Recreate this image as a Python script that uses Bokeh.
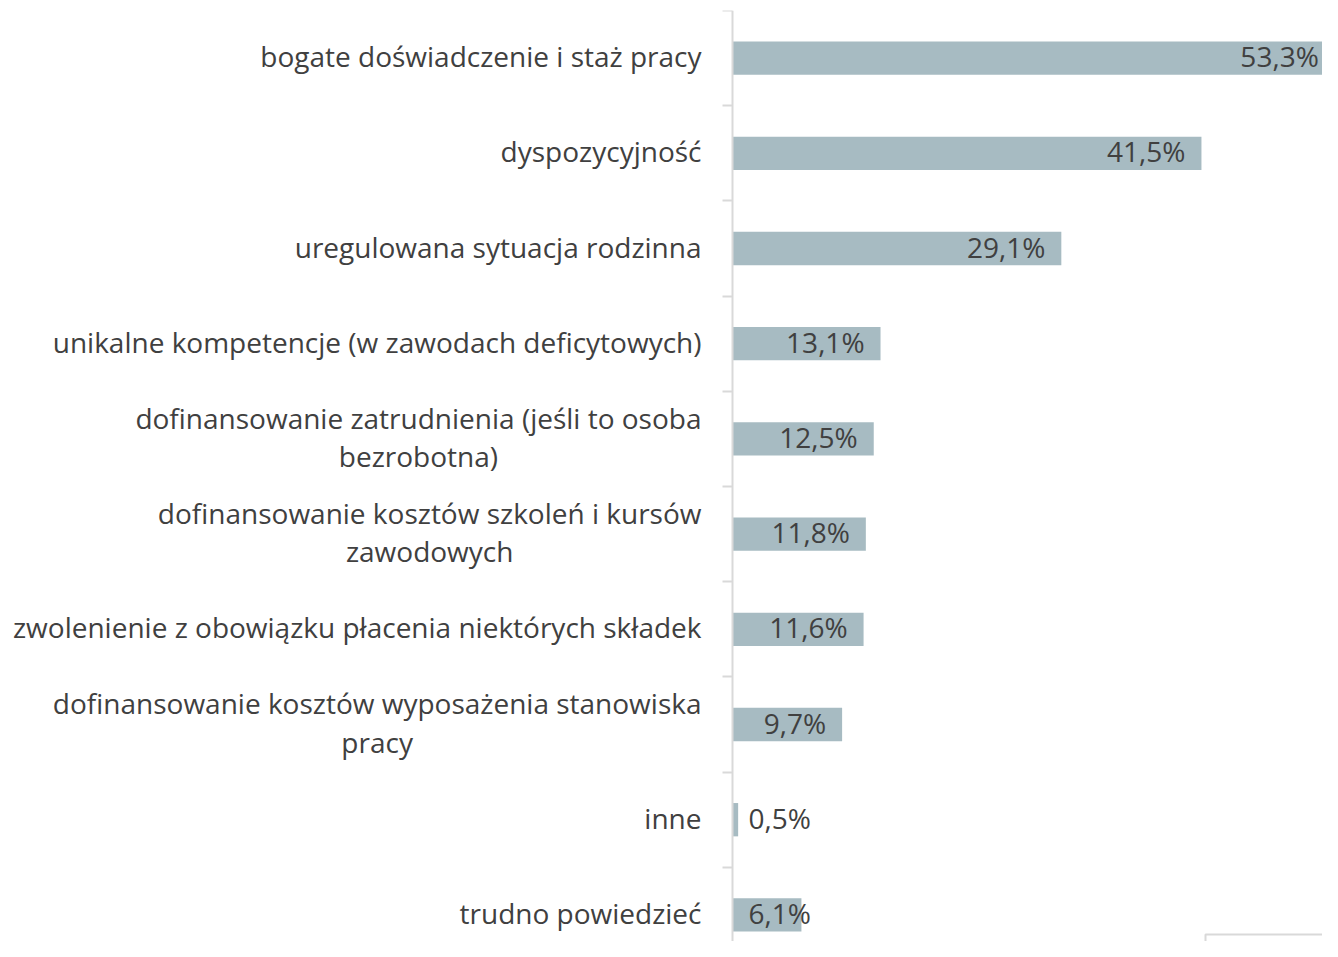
from bokeh.plotting import figure
from bokeh.models import Range1d, FixedTicker, ColumnDataSource, Label
from bokeh.embed import file_html
from bokeh.resources import INLINE
from bokeh.core.properties import value

categories = [
    "bogate doświadczenie i staż pracy",
    "dyspozycyjność",
    "uregulowana sytuacja rodzinna",
    "unikalne kompetencje (w zawodach deficytowych)",
    "dofinansowanie zatrudnienia (jeśli to osoba\nbezrobotna)",
    "dofinansowanie kosztów szkoleń i kursów\nzawodowych",
    "zwolenienie z obowiązku płacenia niektórych składek",
    "dofinansowanie kosztów wyposażenia stanowiska\npracy",
    "inne",
    "trudno powiedzieć",
]
values = [53.3, 41.5, 29.1, 13.1, 12.5, 11.8, 11.6, 9.7, 0.5, 6.1]
value_labels = ["53,3%", "41,5%", "29,1%", "13,1%", "12,5%", "11,8%", "11,6%", "9,7%", "0,5%", "6,1%"]
sample_note = "N = 548"

FONT = "Open Sans"
FONT_SIZE = "28px"
TEXT_COLOR = "#404040"
BAR_COLOR = "#A7BBC2"
AXIS_COLOR = "#D9D9D9"

W, H = 1322, 941
AXIS_PX, TOP = 732, 10
n = len(categories)
ypos = [n - 1 - i for i in range(n)]
row_px = 95.2
y_start = (n - 0.5) - (H - TOP) / row_px

px_per_unit = 11.3
x_start = -AXIS_PX / px_per_unit
x_end = (W - AXIS_PX) / px_per_unit

p = figure(width=W, height=H, output_backend="svg", toolbar_location=None,
           x_range=Range1d(x_start, x_end), y_range=Range1d(y_start, n - 0.5),
           x_axis_location=None, min_border_left=0, min_border_right=0,
           min_border_top=TOP, min_border_bottom=0)
p.outline_line_color = None
p.xgrid.visible = False
p.ygrid.visible = False
p.background_fill_color = "white"
p.border_fill_color = "white"

src = ColumnDataSource(dict(y=ypos, v=values))
p.hbar(y="y", left=0, right="v", height=0.35, source=src,
       fill_color=BAR_COLOR, line_color=None)

ax = p.yaxis[0]
ax.fixed_location = 0
ax.ticker = FixedTicker(ticks=[], minor_ticks=[k - 0.5 for k in range(n + 1)])
ax.major_tick_out = 0
ax.major_tick_in = 0
ax.minor_tick_out = 10
ax.minor_tick_in = 0
ax.minor_tick_line_color = AXIS_COLOR
ax.minor_tick_line_width = 2
ax.axis_line_color = AXIS_COLOR
ax.axis_line_width = 2
ax.major_label_text_font_size = "0px"

# category labels: block right-aligned next to the axis, lines centred within the block
for y, c in zip(ypos, categories):
    p.add_layout(Label(x=0, y=y, x_offset=-31, y_offset=2, text=c, anchor="center_right",
                       text_align="center", text_font=FONT, text_font_size=FONT_SIZE,
                       text_color=TEXT_COLOR, text_line_height=1.02))

# value labels: inside the bar end when the bar is wide enough, else just after the axis
inside = [v * px_per_unit >= 94 for v in values]
src_in = ColumnDataSource(dict(
    x=[v for v, k in zip(values, inside) if k],
    y=[y for y, k in zip(ypos, inside) if k],
    t=[t for t, k in zip(value_labels, inside) if k]))
src_out = ColumnDataSource(dict(
    x=[0 for v, k in zip(values, inside) if not k],
    y=[y for y, k in zip(ypos, inside) if not k],
    t=[t for t, k in zip(value_labels, inside) if not k]))
common = dict(text="t", text_baseline="middle", text_font=value(FONT),
              text_font_size=FONT_SIZE, text_color=TEXT_COLOR, y_offset=-2)
p.text(x="x", y="y", source=src_in, text_align="right", x_offset=-16, **common)
p.text(x="x", y="y", source=src_out, text_align="left", x_offset=16, **common)

note_x = (1205 - AXIS_PX) / px_per_unit
note_y = (n - 0.5) - (934 - TOP) / row_px
note = Label(x=note_x, y=note_y, text=sample_note, anchor="top_left",
             text_font=FONT, text_font_size=FONT_SIZE, text_color=TEXT_COLOR,
             border_line_color=AXIS_COLOR, border_line_width=2,
             background_fill_color="white", padding=18)
p.add_layout(note)

open("out.html", "w").write(file_html(p, INLINE))
